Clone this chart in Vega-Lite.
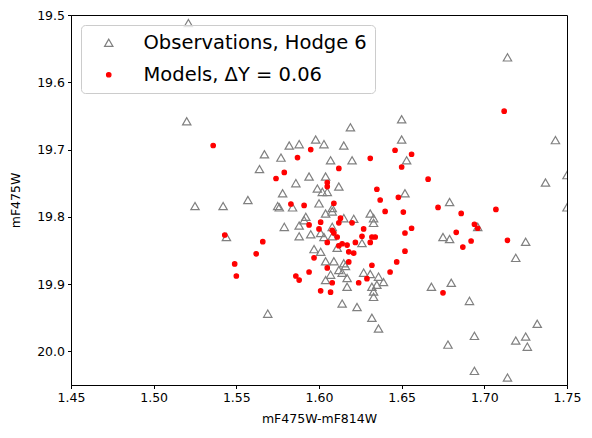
{
 "$schema": "https://vega.github.io/schema/vega-lite/v6.json",
 "width": 496, "height": 370,
 "autosize": {"type": "none"},
 "padding": {"left": 71, "top": 15, "right": 25, "bottom": 53},
 "background": "white",
 "config": {
  "view": {"stroke": "black", "strokeWidth": 1},
  "font": "DejaVu Sans",
  "axis": {"domainColor": "black", "tickColor": "black", "labelColor": "black", "titleColor": "black", "labelFontSize": 12.5, "titleFontSize": 12.5, "titleFontWeight": "normal", "tickSize": 3.5, "grid": false, "labelFont": "DejaVu Sans", "titleFont": "DejaVu Sans", "labelPadding": 3, "labelFlush": false, "labelOverlap": false},
  "axisX": {"titlePadding": 8},
  "axisY": {"titlePadding": 14},
  "legend": {"orient": "top-left", "offset": 9.5, "padding": 8, "fillColor": "rgba(255,255,255,0.8)", "strokeColor": "#cccccc", "cornerRadius": 4, "labelFontSize": 19.5, "labelFont": "DejaVu Sans", "labelColor": "black", "symbolOffset": 10, "labelOffset": 25, "rowPadding": 11, "symbolStrokeWidth": 1.2, "labelLimit": 400}
 },
 "data": {"values": [
  {"s":"Observations, Hodge 6","x":1.521,"y":19.512},
  {"s":"Observations, Hodge 6","x":1.520,"y":19.658},
  {"s":"Observations, Hodge 6","x":1.714,"y":19.563},
  {"s":"Observations, Hodge 6","x":1.743,"y":19.686},
  {"s":"Observations, Hodge 6","x":1.750,"y":19.738},
  {"s":"Observations, Hodge 6","x":1.737,"y":19.749},
  {"s":"Observations, Hodge 6","x":1.750,"y":19.786},
  {"s":"Observations, Hodge 6","x":1.650,"y":19.655},
  {"s":"Observations, Hodge 6","x":1.619,"y":19.667},
  {"s":"Observations, Hodge 6","x":1.650,"y":19.685},
  {"s":"Observations, Hodge 6","x":1.598,"y":19.685},
  {"s":"Observations, Hodge 6","x":1.582,"y":19.694},
  {"s":"Observations, Hodge 6","x":1.588,"y":19.692},
  {"s":"Observations, Hodge 6","x":1.603,"y":19.692},
  {"s":"Observations, Hodge 6","x":1.615,"y":19.694},
  {"s":"Observations, Hodge 6","x":1.567,"y":19.707},
  {"s":"Observations, Hodge 6","x":1.577,"y":19.712},
  {"s":"Observations, Hodge 6","x":1.607,"y":19.716},
  {"s":"Observations, Hodge 6","x":1.620,"y":19.716},
  {"s":"Observations, Hodge 6","x":1.653,"y":19.716},
  {"s":"Observations, Hodge 6","x":1.564,"y":19.729},
  {"s":"Observations, Hodge 6","x":1.594,"y":19.740},
  {"s":"Observations, Hodge 6","x":1.604,"y":19.740},
  {"s":"Observations, Hodge 6","x":1.586,"y":19.750},
  {"s":"Observations, Hodge 6","x":1.612,"y":19.755},
  {"s":"Observations, Hodge 6","x":1.599,"y":19.758},
  {"s":"Observations, Hodge 6","x":1.602,"y":19.763},
  {"s":"Observations, Hodge 6","x":1.605,"y":19.763},
  {"s":"Observations, Hodge 6","x":1.578,"y":19.765},
  {"s":"Observations, Hodge 6","x":1.652,"y":19.765},
  {"s":"Observations, Hodge 6","x":1.679,"y":19.778},
  {"s":"Observations, Hodge 6","x":1.557,"y":19.775},
  {"s":"Observations, Hodge 6","x":1.525,"y":19.784},
  {"s":"Observations, Hodge 6","x":1.542,"y":19.784},
  {"s":"Observations, Hodge 6","x":1.575,"y":19.784},
  {"s":"Observations, Hodge 6","x":1.576,"y":19.786},
  {"s":"Observations, Hodge 6","x":1.584,"y":19.786},
  {"s":"Observations, Hodge 6","x":1.600,"y":19.780},
  {"s":"Observations, Hodge 6","x":1.608,"y":19.787},
  {"s":"Observations, Hodge 6","x":1.608,"y":19.792},
  {"s":"Observations, Hodge 6","x":1.604,"y":19.795},
  {"s":"Observations, Hodge 6","x":1.592,"y":19.800},
  {"s":"Observations, Hodge 6","x":1.591,"y":19.805},
  {"s":"Observations, Hodge 6","x":1.588,"y":19.813},
  {"s":"Observations, Hodge 6","x":1.579,"y":19.815},
  {"s":"Observations, Hodge 6","x":1.588,"y":19.829},
  {"s":"Observations, Hodge 6","x":1.595,"y":19.826},
  {"s":"Observations, Hodge 6","x":1.601,"y":19.824},
  {"s":"Observations, Hodge 6","x":1.603,"y":19.830},
  {"s":"Observations, Hodge 6","x":1.608,"y":19.829},
  {"s":"Observations, Hodge 6","x":1.608,"y":19.815},
  {"s":"Observations, Hodge 6","x":1.597,"y":19.848},
  {"s":"Observations, Hodge 6","x":1.601,"y":19.852},
  {"s":"Observations, Hodge 6","x":1.604,"y":19.866},
  {"s":"Observations, Hodge 6","x":1.609,"y":19.866},
  {"s":"Observations, Hodge 6","x":1.612,"y":19.879},
  {"s":"Observations, Hodge 6","x":1.614,"y":19.883},
  {"s":"Observations, Hodge 6","x":1.607,"y":19.886},
  {"s":"Observations, Hodge 6","x":1.604,"y":19.894},
  {"s":"Observations, Hodge 6","x":1.617,"y":19.891},
  {"s":"Observations, Hodge 6","x":1.617,"y":19.904},
  {"s":"Observations, Hodge 6","x":1.611,"y":19.846},
  {"s":"Observations, Hodge 6","x":1.615,"y":19.802},
  {"s":"Observations, Hodge 6","x":1.621,"y":19.803},
  {"s":"Observations, Hodge 6","x":1.631,"y":19.795},
  {"s":"Observations, Hodge 6","x":1.633,"y":19.802},
  {"s":"Observations, Hodge 6","x":1.633,"y":19.809},
  {"s":"Observations, Hodge 6","x":1.626,"y":19.839},
  {"s":"Observations, Hodge 6","x":1.615,"y":19.869},
  {"s":"Observations, Hodge 6","x":1.616,"y":19.873},
  {"s":"Observations, Hodge 6","x":1.627,"y":19.883},
  {"s":"Observations, Hodge 6","x":1.631,"y":19.885},
  {"s":"Observations, Hodge 6","x":1.636,"y":19.889},
  {"s":"Observations, Hodge 6","x":1.639,"y":19.897},
  {"s":"Observations, Hodge 6","x":1.635,"y":19.901},
  {"s":"Observations, Hodge 6","x":1.632,"y":19.904},
  {"s":"Observations, Hodge 6","x":1.633,"y":19.911},
  {"s":"Observations, Hodge 6","x":1.633,"y":19.919},
  {"s":"Observations, Hodge 6","x":1.614,"y":19.929},
  {"s":"Observations, Hodge 6","x":1.623,"y":19.934},
  {"s":"Observations, Hodge 6","x":1.632,"y":19.950},
  {"s":"Observations, Hodge 6","x":1.636,"y":19.966},
  {"s":"Observations, Hodge 6","x":1.569,"y":19.944},
  {"s":"Observations, Hodge 6","x":1.544,"y":19.830},
  {"s":"Observations, Hodge 6","x":1.675,"y":19.830},
  {"s":"Observations, Hodge 6","x":1.679,"y":19.833},
  {"s":"Observations, Hodge 6","x":1.696,"y":19.815},
  {"s":"Observations, Hodge 6","x":1.725,"y":19.837},
  {"s":"Observations, Hodge 6","x":1.719,"y":19.861},
  {"s":"Observations, Hodge 6","x":1.668,"y":19.904},
  {"s":"Observations, Hodge 6","x":1.680,"y":19.898},
  {"s":"Observations, Hodge 6","x":1.691,"y":19.925},
  {"s":"Observations, Hodge 6","x":1.732,"y":19.959},
  {"s":"Observations, Hodge 6","x":1.694,"y":19.977},
  {"s":"Observations, Hodge 6","x":1.678,"y":19.990},
  {"s":"Observations, Hodge 6","x":1.719,"y":19.984},
  {"s":"Observations, Hodge 6","x":1.725,"y":19.978},
  {"s":"Observations, Hodge 6","x":1.726,"y":19.993},
  {"s":"Observations, Hodge 6","x":1.694,"y":20.029},
  {"s":"Observations, Hodge 6","x":1.714,"y":20.039},
  {"s":"Models, ΔY = 0.06","x":1.536,"y":19.694},
  {"s":"Models, ΔY = 0.06","x":1.595,"y":19.700},
  {"s":"Models, ΔY = 0.06","x":1.587,"y":19.712},
  {"s":"Models, ΔY = 0.06","x":1.579,"y":19.734},
  {"s":"Models, ΔY = 0.06","x":1.574,"y":19.743},
  {"s":"Models, ΔY = 0.06","x":1.612,"y":19.728},
  {"s":"Models, ΔY = 0.06","x":1.605,"y":19.749},
  {"s":"Models, ΔY = 0.06","x":1.605,"y":19.755},
  {"s":"Models, ΔY = 0.06","x":1.631,"y":19.713},
  {"s":"Models, ΔY = 0.06","x":1.646,"y":19.701},
  {"s":"Models, ΔY = 0.06","x":1.656,"y":19.707},
  {"s":"Models, ΔY = 0.06","x":1.650,"y":19.726},
  {"s":"Models, ΔY = 0.06","x":1.666,"y":19.744},
  {"s":"Models, ΔY = 0.06","x":1.635,"y":19.759},
  {"s":"Models, ΔY = 0.06","x":1.637,"y":19.775},
  {"s":"Models, ΔY = 0.06","x":1.648,"y":19.771},
  {"s":"Models, ΔY = 0.06","x":1.712,"y":19.643},
  {"s":"Models, ΔY = 0.06","x":1.583,"y":19.781},
  {"s":"Models, ΔY = 0.06","x":1.591,"y":19.783},
  {"s":"Models, ΔY = 0.06","x":1.609,"y":19.780},
  {"s":"Models, ΔY = 0.06","x":1.613,"y":19.802},
  {"s":"Models, ΔY = 0.06","x":1.612,"y":19.809},
  {"s":"Models, ΔY = 0.06","x":1.594,"y":19.812},
  {"s":"Models, ΔY = 0.06","x":1.601,"y":19.808},
  {"s":"Models, ΔY = 0.06","x":1.600,"y":19.818},
  {"s":"Models, ΔY = 0.06","x":1.608,"y":19.820},
  {"s":"Models, ΔY = 0.06","x":1.609,"y":19.824},
  {"s":"Models, ΔY = 0.06","x":1.611,"y":19.830},
  {"s":"Models, ΔY = 0.06","x":1.605,"y":19.838},
  {"s":"Models, ΔY = 0.06","x":1.612,"y":19.843},
  {"s":"Models, ΔY = 0.06","x":1.614,"y":19.840},
  {"s":"Models, ΔY = 0.06","x":1.617,"y":19.842},
  {"s":"Models, ΔY = 0.06","x":1.618,"y":19.852},
  {"s":"Models, ΔY = 0.06","x":1.597,"y":19.861},
  {"s":"Models, ΔY = 0.06","x":1.618,"y":19.867},
  {"s":"Models, ΔY = 0.06","x":1.605,"y":19.876},
  {"s":"Models, ΔY = 0.06","x":1.594,"y":19.882},
  {"s":"Models, ΔY = 0.06","x":1.586,"y":19.888},
  {"s":"Models, ΔY = 0.06","x":1.588,"y":19.894},
  {"s":"Models, ΔY = 0.06","x":1.608,"y":19.898},
  {"s":"Models, ΔY = 0.06","x":1.601,"y":19.910},
  {"s":"Models, ΔY = 0.06","x":1.607,"y":19.912},
  {"s":"Models, ΔY = 0.06","x":1.640,"y":19.792},
  {"s":"Models, ΔY = 0.06","x":1.651,"y":19.793},
  {"s":"Models, ΔY = 0.06","x":1.620,"y":19.809},
  {"s":"Models, ΔY = 0.06","x":1.627,"y":19.818},
  {"s":"Models, ΔY = 0.06","x":1.626,"y":19.829},
  {"s":"Models, ΔY = 0.06","x":1.632,"y":19.830},
  {"s":"Models, ΔY = 0.06","x":1.634,"y":19.830},
  {"s":"Models, ΔY = 0.06","x":1.622,"y":19.838},
  {"s":"Models, ΔY = 0.06","x":1.631,"y":19.838},
  {"s":"Models, ΔY = 0.06","x":1.621,"y":19.854},
  {"s":"Models, ΔY = 0.06","x":1.652,"y":19.824},
  {"s":"Models, ΔY = 0.06","x":1.656,"y":19.817},
  {"s":"Models, ΔY = 0.06","x":1.652,"y":19.851},
  {"s":"Models, ΔY = 0.06","x":1.647,"y":19.867},
  {"s":"Models, ΔY = 0.06","x":1.632,"y":19.872},
  {"s":"Models, ΔY = 0.06","x":1.643,"y":19.882},
  {"s":"Models, ΔY = 0.06","x":1.629,"y":19.892},
  {"s":"Models, ΔY = 0.06","x":1.624,"y":19.898},
  {"s":"Models, ΔY = 0.06","x":1.543,"y":19.827},
  {"s":"Models, ΔY = 0.06","x":1.566,"y":19.837},
  {"s":"Models, ΔY = 0.06","x":1.562,"y":19.855},
  {"s":"Models, ΔY = 0.06","x":1.549,"y":19.870},
  {"s":"Models, ΔY = 0.06","x":1.550,"y":19.888},
  {"s":"Models, ΔY = 0.06","x":1.672,"y":19.786},
  {"s":"Models, ΔY = 0.06","x":1.686,"y":19.795},
  {"s":"Models, ΔY = 0.06","x":1.707,"y":19.789},
  {"s":"Models, ΔY = 0.06","x":1.683,"y":19.823},
  {"s":"Models, ΔY = 0.06","x":1.694,"y":19.811},
  {"s":"Models, ΔY = 0.06","x":1.696,"y":19.817},
  {"s":"Models, ΔY = 0.06","x":1.692,"y":19.836},
  {"s":"Models, ΔY = 0.06","x":1.687,"y":19.845},
  {"s":"Models, ΔY = 0.06","x":1.714,"y":19.835},
  {"s":"Models, ΔY = 0.06","x":1.675,"y":19.913}
 ]},
 "mark": {"type": "point", "clip": true, "filled": true, "strokeWidth": 1.2, "opacity": 1},
 "encoding": {
  "x": {"field": "x", "type": "quantitative", "scale": {"domain": [1.45, 1.75], "nice": false, "zero": false}, "axis": {"values": [1.45, 1.5, 1.55, 1.6, 1.65, 1.7, 1.75], "format": ".2f", "title": "mF475W-mF814W"}},
  "y": {"field": "y", "type": "quantitative", "scale": {"domain": [19.5, 20.05], "reverse": true, "nice": false, "zero": false}, "axis": {"values": [19.5, 19.6, 19.7, 19.8, 19.9, 20.0], "format": ".1f", "title": "mF475W"}},
  "shape": {"field": "s", "type": "nominal", "scale": {"domain": ["Observations, Hodge 6", "Models, ΔY = 0.06"], "range": ["triangle-up", "circle"]}, "legend": {"title": null}},
  "stroke": {"field": "s", "type": "nominal", "scale": {"domain": ["Observations, Hodge 6", "Models, ΔY = 0.06"], "range": ["#808080", "#ff0000"]}, "legend": {"title": null}},
  "fill": {"field": "s", "type": "nominal", "scale": {"domain": ["Observations, Hodge 6", "Models, ΔY = 0.06"], "range": ["transparent", "#ff0000"]}, "legend": {"title": null}},
  "size": {"field": "s", "type": "nominal", "scale": {"domain": ["Observations, Hodge 6", "Models, ΔY = 0.06"], "range": [70, 20]}, "legend": {"title": null}}
 }
}
